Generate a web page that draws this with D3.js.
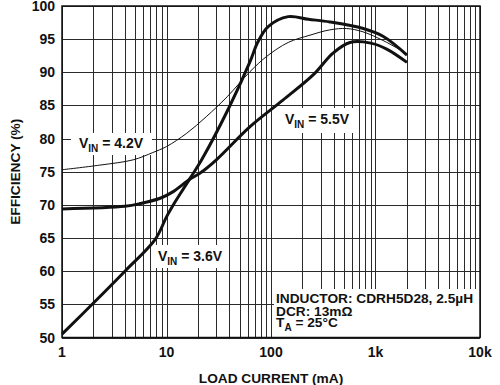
<!DOCTYPE html>
<meta charset="utf-8">
<head>
  <title>Efficiency vs Load Current</title>
</head>

<style>
  body { margin: 0; background: #fff; }
  text { font-family: "Liberation Sans", Arial, sans-serif; font-weight: bold; fill: #111; }
</style>

<body>
  <svg width="500" height="385"></svg>

  <script src="https://cdn.jsdelivr.net/npm/d3@7"></script>
  <script>

// data (load current in mA, efficiency in %)
var load36 = [1, 2, 4, 7.8, 10, 11.6, 16.8, 21.7, 40, 63, 75, 94, 146, 228, 366, 764, 1190, 2000];
var eff36  = [50.5, 55.2, 60, 64.8, 68.2, 70, 74, 76.8, 84.8, 91.6, 94.6, 96.9, 98.4, 98.0, 97.6, 96.6, 95.4, 92.6];

var load42 = [1, 2.3, 4.8, 7.4, 10, 15.6, 24, 38, 63, 91, 146, 236, 366, 530, 760, 1180, 2000];
var eff42  = [75.3, 76.0, 76.8, 77.9, 78.8, 80.8, 83.3, 86.3, 90.1, 92.4, 94.5, 95.6, 96.4, 96.6, 96.1, 94.8, 92.8];

var load55 = [1, 4, 5.6, 8.7, 11.6, 16.8, 21, 30, 63, 130, 253, 392, 570, 900, 1280, 2000];
var eff55  = [69.4, 69.8, 70.2, 71.0, 72.0, 73.9, 74.8, 76.8, 81.8, 85.8, 89.6, 92.9, 94.5, 94.4, 93.5, 91.5];

var xTicks = [1, 10, 100, 1000, 10000];
var xTickLabels = ["1", "10", "100", "1k", "10k"];
var yTicks = [50, 55, 60, 65, 70, 75, 80, 85, 90, 95, 100];

var seriesNames = ["3.6V", "4.2V", "5.5V"];
var noteLines = ["INDUCTOR: CDRH5D28, 2.5\u00b5H", "DCR: 13m\u03a9", " = 25\u00b0C"];

var svg = d3.select("svg");
svg.append("rect").attr("width", 500).attr("height", 385).attr("fill", "#fff");

// plot box (careful: "top" is taken by window.top)
var pL = 62, pR = 480, pT = 6, pB = 337.5;

var x = d3.scaleLog().domain([1, 10000]).range([pL, pR]);
var y = d3.scaleLinear().domain([50, 100]).range([pB, pT]);

// grid: every minor decade line
var minor = [];
for (var d = 1; d < 10000; d *= 10) {
  for (var m = 1; m < 10; m++) minor.push(d * m);
}
minor.push(10000);

var grid = svg.append("g").attr("stroke", "#2a2a2a").attr("stroke-width", 1);
grid.selectAll(".vx").data(minor).enter().append("line")
  .attr("x1", function(d) { return Math.round(x(d)) + 0.5; })
  .attr("x2", function(d) { return Math.round(x(d)) + 0.5; })
  .attr("y1", pT).attr("y2", pB);
grid.selectAll(".hy").data(yTicks).enter().append("line")
  .attr("x1", pL).attr("x2", pR)
  .attr("y1", function(d) { return Math.round(y(d)) + 0.5; })
  .attr("y2", function(d) { return Math.round(y(d)) + 0.5; });

// white patches behind the labels
svg.append("rect").attr("x", 274).attr("y", 289).attr("width", pR - 274).attr("height", pB - 289).attr("fill", "#fff");
svg.append("rect").attr("x", 71).attr("y", 133).attr("width", 81).attr("height", 22).attr("fill", "#fff");
svg.append("rect").attr("x", 278).attr("y", 108).attr("width", 79).attr("height", 25).attr("fill", "#fff");
svg.append("rect").attr("x", 152).attr("y", 245).attr("width", 75).attr("height", 23).attr("fill", "#fff");

// frame
svg.append("rect").attr("x", pL).attr("y", pT).attr("width", pR - pL).attr("height", pB - pT)
  .attr("fill", "none").attr("stroke", "#111").attr("stroke-width", 1.5);

// curves
var line = d3.line()
  .x(function(d) { return x(d[0]); })
  .y(function(d) { return y(d[1]); })
  .curve(d3.curveCatmullRom.alpha(0.5));

function pairs(a, b) { return a.map(function(v, i) { return [v, b[i]]; }); }

svg.append("path").attr("d", line(pairs(load42, eff42)))
  .attr("fill", "none").attr("stroke", "#111").attr("stroke-width", 1);
svg.append("path").attr("d", line(pairs(load55, eff55)))
  .attr("fill", "none").attr("stroke", "#111").attr("stroke-width", 3);
svg.append("path").attr("d", line(pairs(load36, eff36)))
  .attr("fill", "none").attr("stroke", "#111").attr("stroke-width", 3);

// tick labels
svg.selectAll(".xt").data(xTicks).enter().append("text")
  .attr("x", function(d) { return x(d); })
  .attr("y", 357)
  .attr("text-anchor", "middle")
  .style("font-size", "14px")
  .text(function(d, i) { return xTickLabels[i]; });

svg.selectAll(".yt").data(yTicks).enter().append("text")
  .attr("x", 55)
  .attr("y", function(d) { return y(d) + 5; })
  .attr("text-anchor", "end")
  .style("font-size", "14px")
  .text(function(d) { return d; });

svg.append("text").attr("x", (pL + pR) / 2).attr("y", 383)
  .attr("text-anchor", "middle").style("font-size", "13.7px")
  .text("LOAD CURRENT (mA)");

svg.append("text").attr("transform", "translate(20," + ((pT + pB) / 2) + ") rotate(-90)")
  .attr("text-anchor", "middle").style("font-size", "13.7px")
  .text("EFFICIENCY (%)");

// V_IN labels
function vinLabel(px, py, val) {
  var t = svg.append("text").attr("x", px).attr("y", py).style("font-size", "14px");
  t.append("tspan").text("V");
  t.append("tspan").attr("dy", 4).style("font-size", "10px").text("IN");
  t.append("tspan").attr("dy", -4).text(" = " + val);
}
vinLabel(79, 148, seriesNames[1]);
vinLabel(285, 124, seriesNames[2]);
vinLabel(158, 261, seriesNames[0]);

// inductor note
var note = svg.append("g").style("font-size", "13.7px");
note.append("text").attr("x", 276).attr("y", 303).text(noteLines[0]);
note.append("text").attr("x", 276).attr("y", 316).text(noteLines[1]);
var ta = note.append("text").attr("x", 276).attr("y", 327);
ta.append("tspan").text("T");
ta.append("tspan").attr("dy", 4).style("font-size", "10px").text("A");
ta.append("tspan").attr("dy", -4).text(noteLines[2]);

  </script>
</body>
</html>
